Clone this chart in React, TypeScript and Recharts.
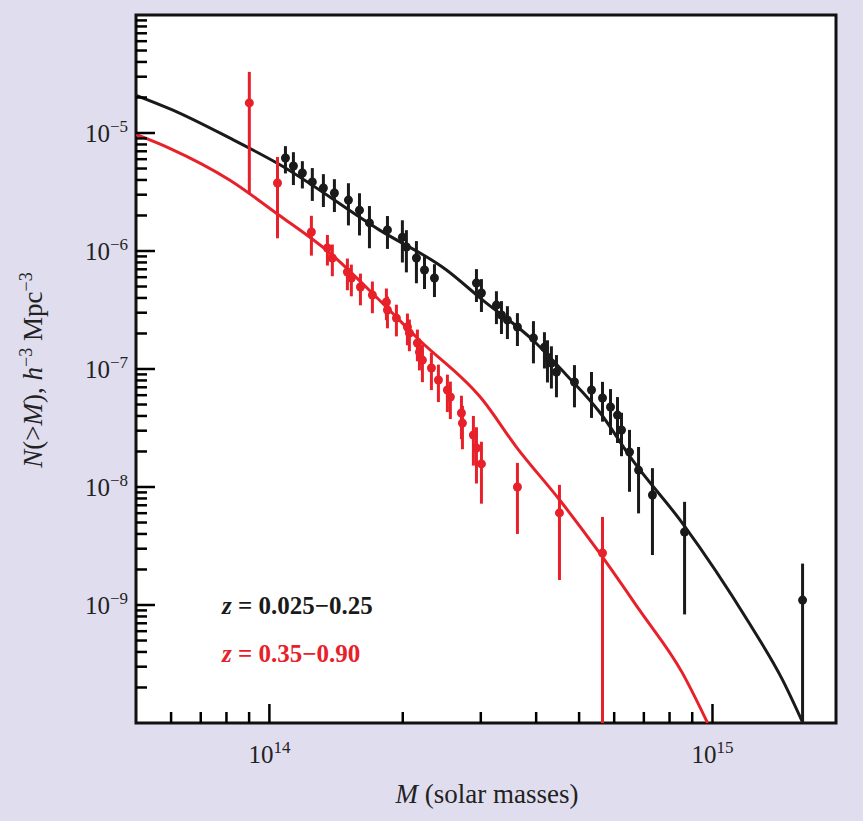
import React from "react";
import {
  ComposedChart,
  Line,
  Scatter,
  ErrorBar,
  XAxis,
  YAxis,
  ReferenceArea,
} from "recharts";

// model curves (mass in solar masses, N(>M) in h^3 Mpc^-3)
const blackCurveM = [4.98e13, 6.04e13, 8.13e13, 1.04e14, 1.77e14, 2.51e14, 3.03e14, 3.93e14, 4.68e14, 5.56e14, 6.6e14, 8.55e14, 1.21e15, 1.44e15, 1.6e15];
const blackCurveN = [2.1e-5, 1.57e-5, 9.08e-6, 5.57e-6, 1.51e-6, 6.9e-7, 3.84e-7, 1.76e-7, 8.9e-8, 4.32e-8, 1.69e-8, 4.95e-9, 7.03e-10, 2.31e-10, 1e-10];
const redCurveM = [4.98e13, 5.94e13, 8.13e13, 1.05e14, 1.37e14, 1.77e14, 2.18e14, 3.03e14, 3.61e14, 4.52e14, 5.56e14, 6.84e14, 8.55e14, 9.75e14];
const redCurveN = [9.8e-6, 7.46e-6, 4.0e-6, 2.02e-6, 9.6e-7, 3.84e-7, 1.76e-7, 5.46e-8, 2.18e-8, 7.76e-9, 2.76e-9, 9.08e-10, 2.66e-10, 1e-10];

// cluster data, mass in units of 1e14
const blackM = [1.087, 1.133, 1.187, 1.25, 1.324, 1.402, 1.508, 1.597, 1.682, 1.847, 1.996, 2.038, 2.147, 2.239, 2.358, 2.933, 3.01, 3.254, 3.34, 3.445, 3.629, 3.944, 4.176, 4.242, 4.33, 4.445, 4.881, 5.333, 5.646, 5.886, 6.104, 6.232, 6.497, 6.81, 7.32, 8.65, 15.97];
const blackN = [6.14e-6, 5.25e-6, 4.58e-6, 3.85e-6, 3.42e-6, 3.1e-6, 2.7e-6, 2.22e-6, 1.73e-6, 1.51e-6, 1.31e-6, 1.08e-6, 8.73e-7, 6.9e-7, 5.9e-7, 5.36e-7, 4.41e-7, 3.48e-7, 2.87e-7, 2.6e-7, 2.27e-7, 1.83e-7, 1.53e-7, 1.26e-7, 1.12e-7, 9.44e-8, 7.76e-8, 6.64e-8, 5.68e-8, 4.76e-8, 4.07e-8, 3.04e-8, 1.98e-8, 1.39e-8, 8.55e-9, 4.16e-9, 1.1e-9];
const blackRelErr = [0.26, 0.31, 0.26, 0.31, 0.31, 0.31, 0.39, 0.39, 0.39, 0.31, 0.39, 0.39, 0.39, 0.31, 0.31, 0.31, 0.31, 0.31, 0.31, 0.31, 0.31, 0.39, 0.34, 0.39, 0.39, 0.39, 0.39, 0.42, 0.37, 0.42, 0.42, 0.4, 0.54, 0.57, 0.69, 0.8, 1.04];

const redM = [0.901, 1.043, 1.244, 1.352, 1.387, 1.5, 1.531, 1.605, 1.708, 1.837, 1.847, 1.935, 2.049, 2.07, 2.158, 2.181, 2.215, 2.321, 2.407, 2.522, 2.561, 2.713, 2.727, 2.887, 2.933, 3.01, 3.629, 4.515, 5.646];
const redN = [1.8e-5, 3.77e-6, 1.45e-6, 1.06e-6, 8.73e-7, 6.64e-7, 5.9e-7, 4.95e-7, 4.24e-7, 3.7e-7, 3.16e-7, 2.7e-7, 2.27e-7, 2.02e-7, 1.66e-7, 1.39e-7, 1.19e-7, 1.02e-7, 8.07e-8, 6.64e-8, 5.79e-8, 4.24e-8, 3.48e-8, 2.76e-8, 2.14e-8, 1.57e-8, 1e-8, 6.03e-9, 2.76e-9];
const redRelErr = [0.83, 0.66, 0.37, 0.29, 0.3, 0.3, 0.3, 0.3, 0.3, 0.3, 0.3, 0.3, 0.3, 0.3, 0.3, 0.3, 0.35, 0.35, 0.35, 0.35, 0.35, 0.4, 0.4, 0.45, 0.5, 0.54, 0.6, 0.73, 1.02];

const xTicks = [6e13, 7e13, 8e13, 9e13, 1e14, 2e14, 3e14, 4e14, 5e14, 6e14, 7e14, 8e14, 9e14, 1e15];
const yTicks = [
  2e-10, 3e-10, 4e-10, 5e-10, 6e-10, 7e-10, 8e-10, 9e-10, 1e-9,
  2e-9, 3e-9, 4e-9, 5e-9, 6e-9, 7e-9, 8e-9, 9e-9, 1e-8,
  2e-8, 3e-8, 4e-8, 5e-8, 6e-8, 7e-8, 8e-8, 9e-8, 1e-7,
  2e-7, 3e-7, 4e-7, 5e-7, 6e-7, 7e-7, 8e-7, 9e-7, 1e-6,
  2e-6, 3e-6, 4e-6, 5e-6, 6e-6, 7e-6, 8e-6, 9e-6, 1e-5,
  2e-5, 3e-5, 4e-5, 5e-5, 6e-5, 7e-5, 8e-5, 9e-5,
];

const X_MIN = 5e13;
const X_MAX = 1.9e15;
const Y_MIN = 1e-10;
const Y_MAX = 1e-4;

const FONT = "'Liberation Serif', 'DejaVu Serif', serif";
const BG = "#e0ddef";
const RED = "#e8202a";

const curve = (ms: number[], ns: number[]) => ms.map((m, i) => ({ m, n: ns[i] }));
const points = (ms: number[], ns: number[], rel: number[]) =>
  ms.map((m, i) => {
    const n = ns[i];
    const s = n * rel[i];
    return { m: m * 1e14, n, err: [Math.min(s, n - Y_MIN), s] };
  });

const blackCurve = curve(blackCurveM, blackCurveN);
const redCurve = curve(redCurveM, redCurveN);
const blackPts = points(blackM, blackN, blackRelErr);
const redPts = points(redM, redN, redRelErr);

const isMajor = (v: number) => {
  const e = Math.round(Math.log10(v));
  return Math.abs(v / Math.pow(10, e) - 1) < 1e-6 ? e : null;
};

const XTick = (props: any) => {
  const { x, y, payload } = props;
  const e = isMajor(payload.value);
  return (
    <g>
      <line x1={x} x2={x} y1={y} y2={y - (e !== null ? 19 : 11)} stroke="#000" strokeWidth={2.5} />
      {e !== null && (
        <text x={x} y={y + 40} textAnchor="middle" fontFamily={FONT} fontSize={25} fill="#222">
          10<tspan dy={-10} fontSize={17}>{e}</tspan>
        </text>
      )}
    </g>
  );
};

const YTick = (props: any) => {
  const { x, y, payload } = props;
  const e = isMajor(payload.value);
  return (
    <g>
      <line x1={x} x2={x + (e !== null ? 19 : 11)} y1={y} y2={y} stroke="#000" strokeWidth={2.5} />
      {e !== null && (
        <text x={x - 8} y={y + 9} textAnchor="end" fontFamily={FONT} fontSize={25} fill="#222">
          10<tspan dy={-10} fontSize={17}>{"\u2212" + Math.abs(e)}</tspan>
        </text>
      )}
    </g>
  );
};

const dot = (color: string) => (p: any) => <circle cx={p.cx} cy={p.cy} r={4.5} fill={color} />;

export default function App() {
  return (
    <div style={{ position: "absolute", left: 0, top: 0, width: 863, height: 821, background: BG }}>
      <ComposedChart width={863} height={821} margin={{ top: 15, right: 27, bottom: 97, left: 135 }}>
        <XAxis
          dataKey="m"
          type="number"
          scale="log"
          domain={[X_MIN, X_MAX]}
          allowDataOverflow
          ticks={xTicks}
          tick={(p: any) => <XTick {...p} />}
          tickLine={false}
          tickSize={0}
          tickMargin={0}
          axisLine={false}
          height={1}
          interval={0}
        />
        <YAxis
          dataKey="n"
          type="number"
          scale="log"
          domain={[Y_MIN, Y_MAX]}
          allowDataOverflow
          ticks={yTicks}
          tick={(p: any) => <YTick {...p} />}
          tickLine={false}
          tickSize={0}
          tickMargin={0}
          axisLine={false}
          width={1}
          interval={0}
        />
        <ReferenceArea x1={X_MIN} x2={X_MAX} y1={Y_MIN} y2={Y_MAX} fill="#fff" fillOpacity={1} stroke="none" />
        <Line data={blackCurve} dataKey="n" type="monotone" stroke="#1a1a1a" strokeWidth={3} dot={false} isAnimationActive={false} />
        <Line data={redCurve} dataKey="n" type="monotone" stroke={RED} strokeWidth={3} dot={false} isAnimationActive={false} />
        <Scatter data={blackPts} dataKey="n" shape={dot("#1a1a1a")} isAnimationActive={false}>
          <ErrorBar dataKey="err" direction="y" width={0} stroke="#1a1a1a" strokeWidth={3} />
        </Scatter>
        <Scatter data={redPts} dataKey="n" shape={dot(RED)} isAnimationActive={false}>
          <ErrorBar dataKey="err" direction="y" width={0} stroke={RED} strokeWidth={3} />
        </Scatter>
        <ReferenceArea x1={X_MIN} x2={X_MAX} y1={Y_MIN} y2={Y_MAX} fill="none" stroke="#111" strokeWidth={3} />
      </ComposedChart>
      <svg width={863} height={821} style={{ position: "absolute", left: 0, top: 0, pointerEvents: "none" }}>
        <text x={222} y={614} fontFamily={FONT} fontSize={25} fontWeight="bold" fill="#1a1a1a">
          <tspan fontStyle="italic">z</tspan> = 0.025{"\u2212"}0.25
        </text>
        <text x={222} y={662} fontFamily={FONT} fontSize={25} fontWeight="bold" fill={RED}>
          <tspan fontStyle="italic">z</tspan> = 0.35{"\u2212"}0.90
        </text>
        <text x={487} y={803} textAnchor="middle" fontFamily={FONT} fontSize={27} fill="#222">
          <tspan fontStyle="italic">M</tspan> (solar masses)
        </text>
        <text transform="translate(42,370) rotate(-90)" textAnchor="middle" fontFamily={FONT} fontSize={27} fill="#222">
          <tspan fontStyle="italic">N</tspan>(&gt;<tspan fontStyle="italic">M</tspan>), <tspan fontStyle="italic">h</tspan>
          <tspan dy={-10} fontSize={18}>{"\u2212"}3</tspan>
          <tspan dy={10}> Mpc</tspan>
          <tspan dy={-10} fontSize={18}>{"\u2212"}3</tspan>
        </text>
      </svg>
    </div>
  );
}
